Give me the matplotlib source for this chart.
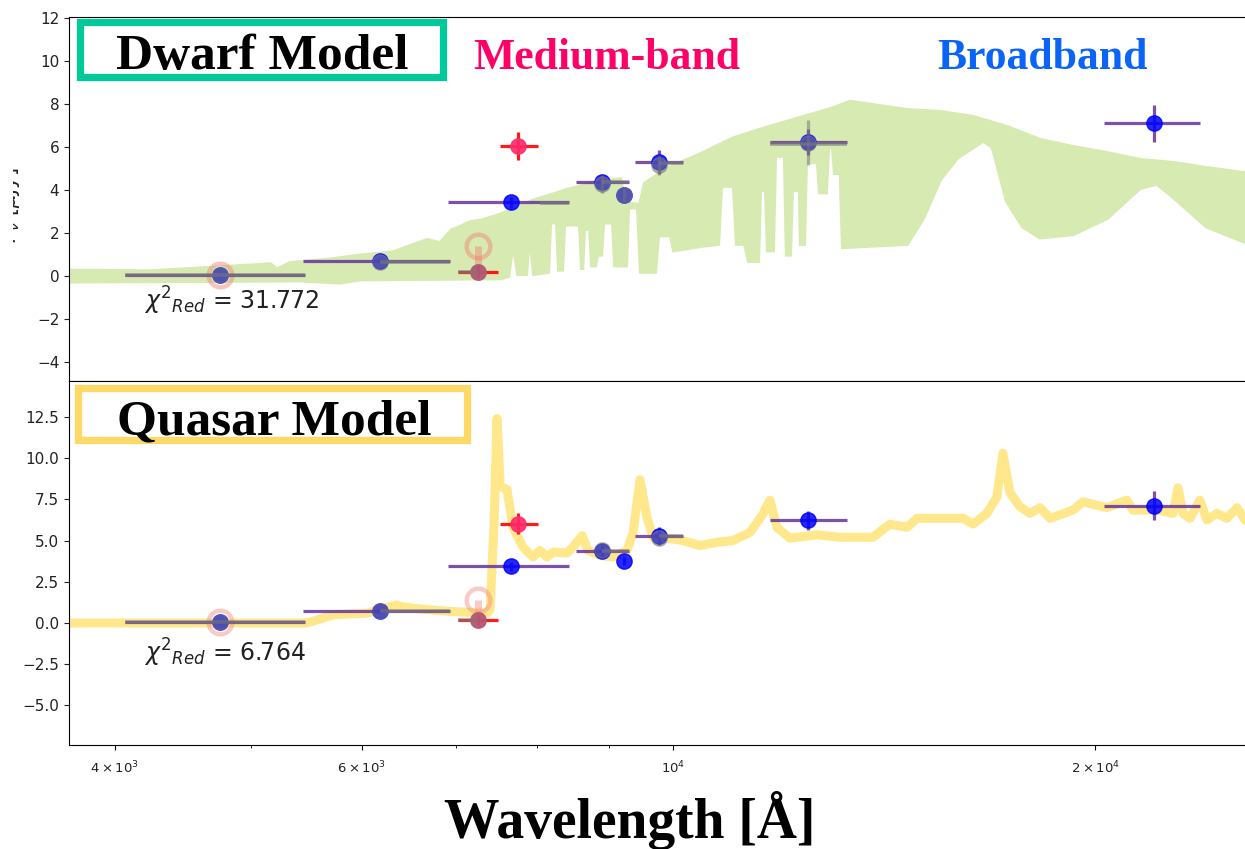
import numpy as np
import matplotlib
matplotlib.use('Agg')
import matplotlib.pyplot as plt
from matplotlib.patches import Rectangle

# photometry (wavelength in Angstrom, flux in uJy)
bb_wave = [4755, 6182, 7667, 8900, 9227, 9773, 12480, 22022]
bb_lo = [4068, 5449, 6914, 8528, 9227, 9395, 11724, 20284]
bb_hi = [5466, 6936, 8430, 9303, 9227, 10165, 13305, 23748]
bb_flux = [0.05, 0.7, 3.43, 4.37, 3.77, 5.3, 6.22, 7.1]
bb_err = [0.1, 0.1, 0.25, 0.35, 0.25, 0.55, 0.6, 0.88]

mb_wave = [7262, 7756]
mb_lo = [7028, 7530]
mb_hi = [7503, 8013]
mb_flux = [0.2, 6.03]
mb_err = [0.3, 0.65]

# flagged bands (open rings)
ring_wave = [4755, 7262]
ring_flux = [0.05, 1.42]
ring_drop = [0.0, 1.2]

# synthetic photometry of each model
dwarf_bar_lo = [4068, 6182, 7028, 8039, 8900, 9773, 11724]
dwarf_bar_hi = [5466, 6936, 7262, 8430, 9303, 10165, 13305]
dwarf_bar_flux = [0.05, 0.65, 0.2, 3.4, 4.37, 5.25, 6.15]
dwarf_pt_wave = [4755, 6182, 7262, 8900, 9227, 9773, 12480]
dwarf_pt_flux = [0.05, 0.65, 0.2, 4.28, 3.77, 5.16, 6.2]
dwarf_pt_err = [0.0, 0.0, 0.0, 0.42, 0.3, 0.45, 1.05]

qso_bar_lo = [4068, 6182, 7028, 8900, 9773]
qso_bar_hi = [5466, 6936, 7262, 9303, 10165]
qso_bar_flux = [0.05, 0.7, 0.2, 4.37, 5.3]
qso_pt_wave = [4755, 6182, 7262, 8900, 9773]
qso_pt_flux = [0.05, 0.7, 0.2, 4.4, 5.15]

# dwarf template: upper and lower envelope of the line forest
dwarf_up_wave = [3711, 4239, 4601, 5036, 5162, 5221, 5334, 5668, 5984, 6317,
                 6679, 6823, 6959, 7005, 7168, 7323, 7530, 7948, 8403, 8872,
                 9169, 9243, 9473, 9551, 9902, 10453, 11034, 11668, 12316,
                 13003, 13370, 13884, 14684, 15502, 16361, 17298, 18265,
                 19284, 20384, 21520, 22718, 24021, 25780]
dwarf_up_flux = [0.25, 0.22, 0.35, 0.5, 0.55, 0.3, 0.6, 0.75, 0.95, 1.1,
                 1.67, 1.53, 2.14, 2.2, 2.5, 2.6, 2.85, 3.5, 4.0, 4.4,
                 4.5, 3.4, 3.3, 4.3, 5.0, 5.65, 6.4, 6.9, 7.35,
                 7.8, 8.1, 7.95, 7.72, 7.63, 7.40, 6.93, 6.33,
                 6.0, 5.72, 5.40, 5.26, 5.02, 4.75]
dwarf_lo_wave = [3711, 5422, 5790, 5984, 7530, 7630, 7667, 7718, 7756, 7858,
                 7884, 7923, 7961, 8146, 8173, 8267, 8294, 8335, 8362, 8586,
                 8614, 8642, 8728, 8757, 8800, 8829, 8887, 8916, 9064, 9094,
                 9258, 9289, 9442, 9488, 9709, 9757, 9967, 10016, 10453, 10767,
                 10820, 11053, 11107, 11254, 11329, 11497, 11535, 11649, 11687,
                 11783, 11822, 12016, 12056, 12115, 12155, 12316, 12336, 12397,
                 12438, 12686, 12728, 12853, 12896, 13003, 13046, 13110, 13153,
                 13218, 14684, 15075, 15502, 15941, 16632, 16901, 17298, 17762,
                 18265, 19284, 20384, 21520, 22129, 22718, 24021, 25780]
dwarf_lo_flux = [-0.25, -0.2, -0.3, -0.15, -0.1, 0.0, 1.0, 1.0, 0.1, 0.1,
                 1.4, 1.4, 0.1, 0.2, 2.5, 2.5, 0.3, 0.3, 2.4, 2.4,
                 0.3, 2.2, 2.2, 0.5, 0.5, 1.0, 1.0, 2.5, 2.5, 0.5,
                 0.5, 3.2, 3.2, 0.2, 0.2, 1.9, 1.9, 1.2, 1.4, 1.5,
                 4.2, 4.2, 1.5, 1.5, 0.7, 0.7, 4.0, 4.0, 1.2,
                 1.2, 5.6, 5.6, 1.0, 1.0, 4.0, 4.0, 1.5, 1.5,
                 5.3, 5.3, 3.9, 3.9, 6.0, 6.0, 4.8, 4.8, 6.0,
                 1.35, 1.5, 2.7, 4.5, 5.5, 6.3, 6.0, 3.5, 2.3,
                 1.8, 1.95, 2.7, 4.1, 4.3, 3.7, 2.3, 1.5]

# quasar template
qso_wave = [3711, 5466, 5511, 5724, 6052, 6357, 6389, 6602, 6936, 7369,
            7406, 7455, 7491, 7515, 7530, 7615, 7691, 7818, 7948, 8039,
            8132, 8212, 8403, 8486, 8614, 8698, 8872, 9064, 9273, 9365,
            9473, 9582, 9677, 9902, 10165, 10453, 10749, 11034, 11348, 11590,
            11724, 11860, 12115, 12665, 13003, 13153, 13884, 14277, 14684,
            14926, 15502, 16099, 16361, 16743, 17017, 17185, 17385, 17675,
            17967, 18265, 18567, 19284, 19597, 20384, 21065, 21273, 22129,
            22718, 22905, 23094, 23361, 23748, 24021, 24418, 24823, 25235,
            25568, 25780]
qso_flux = [0.0, 0.0, 0.05, 0.5, 0.6, 1.1, 1.0, 0.85, 0.7, 0.6,
            0.8, 6.0, 12.4, 10.0, 8.3, 8.1, 5.8, 4.6, 4.0, 4.4,
            4.0, 4.3, 4.25, 4.6, 5.3, 4.4, 4.1, 4.0, 4.4, 5.45,
            8.7, 6.4, 5.2, 5.15, 5.0, 4.7, 4.9, 5.0, 5.5, 6.6,
            7.45, 5.8, 5.15, 5.35, 5.25, 5.2, 5.2, 6.0, 5.8,
            6.35, 6.35, 6.35, 6.0, 6.65, 7.65, 10.3, 7.9, 7.05,
            6.65, 7.0, 6.35, 6.85, 7.35, 7.0, 7.45, 6.85, 6.85,
            6.65, 8.2, 6.65, 6.35, 7.45, 6.25, 6.65, 6.35, 7.0,
            6.25, 6.0]

chi2 = ['31.772', '6.764']
xtick_vals = [4000, 6000, 10000, 20000]
xtick_text = [r'$4\times10^3$', r'$6\times10^3$', r'$10^4$', r'$2\times10^4$']
xminor_vals = [5000, 7000, 8000, 9000]

W, H = 1245, 849
fig = plt.figure(figsize=(W / 100, H / 100), dpi=100)
ax1 = fig.add_axes([69 / W, 1 - 381 / H, 1181 / W, 364 / H])
ax2 = fig.add_axes([69 / W, 1 - 745 / H, 1181 / W, 364 / H], sharex=ax1)

serif = 'Liberation Serif'


def draw_photometry(ax, ring_col):
    xe = [np.subtract(bb_wave, bb_lo), np.subtract(bb_hi, bb_wave)]
    ax.errorbar(bb_wave, bb_flux, xerr=xe, yerr=bb_err, fmt='o', ms=11,
                color='blue', ecolor='rebeccapurple', elinewidth=2.3,
                capsize=0, alpha=0.85, zorder=3)
    xe = [np.subtract(mb_wave, mb_lo), np.subtract(mb_hi, mb_wave)]
    ax.errorbar(mb_wave, mb_flux, xerr=xe, yerr=mb_err, fmt='o', ms=11,
                color='#ff2a6a', ecolor='red', elinewidth=2.3,
                capsize=0, alpha=0.9, zorder=3)
    ax.errorbar(ring_wave, ring_flux, yerr=[ring_drop, np.zeros(len(ring_drop))],
                fmt='o', ms=17, mfc='none', mec=ring_col, mew=3.2,
                ecolor=ring_col, elinewidth=5, capsize=0, alpha=0.45, zorder=2)


# dwarf panel
poly_x = np.concatenate([dwarf_up_wave, dwarf_lo_wave[::-1]])
poly_y = np.concatenate([dwarf_up_flux, dwarf_lo_flux[::-1]])
ax1.fill(poly_x, poly_y, color='#d7eab1', lw=3, ec='#d7eab1', zorder=1)
draw_photometry(ax1, '#f08070')
ax1.hlines(dwarf_bar_flux, dwarf_bar_lo, dwarf_bar_hi, color='#7a7a7a',
           lw=2.6, alpha=0.65, zorder=4)
ax1.errorbar(dwarf_pt_wave, dwarf_pt_flux, yerr=dwarf_pt_err, fmt='o', ms=11,
             color='#7a7a7a', elinewidth=2.3, capsize=0, alpha=0.55, zorder=4)

# quasar panel
ax2.plot(qso_wave, qso_flux, color='#ffe88c', lw=6.5, solid_joinstyle='round',
         solid_capstyle='round', zorder=1)
draw_photometry(ax2, '#f08c84')
ax2.hlines(qso_bar_flux, qso_bar_lo, qso_bar_hi, color='#7a7a7a',
           lw=2.6, alpha=0.6, zorder=4)
ax2.plot(qso_pt_wave, qso_pt_flux, 'o', ms=11, color='#7a7a7a', alpha=0.5,
         zorder=4)

ax1.set_xscale('log')
ax2.set_xticks(xtick_vals, labels=xtick_text)
ax2.set_xticks(xminor_vals, minor=True)
ax2.xaxis.set_minor_formatter(matplotlib.ticker.NullFormatter())
ax1.set_xlim(3711, 25780)
ax1.set_ylim(-4.88, 12.05)
ax2.set_ylim(-7.40, 14.68)
ax1.set_yticks(np.arange(-4, 13, 2))
ax2.set_yticks(np.arange(-5, 13, 2.5))
ax1.tick_params(axis='x', which='both', bottom=False, labelbottom=False)
ax2.tick_params(axis='x', which='major', labelsize=9.5, pad=7,
                labelcolor='#222222')
for ax in (ax1, ax2):
    ax.tick_params(axis='y', labelsize=11, colors='#222222')
    ax.spines['right'].set_visible(False)

ax1.text(4200, -1.15, r'$\chi^2{}_{Red}$ = ' + chi2[0], fontsize=17,
         va='center', color='#222222')
ax2.text(4200, -1.8, r'$\chi^2{}_{Red}$ = ' + chi2[1], fontsize=17,
         va='center', color='#222222')

# model name boxes
ax1.add_patch(Rectangle((0.0097, 0.8338), 0.3074, 0.1511, transform=ax1.transAxes,
                        fill=True, fc='white', ec='#00c99a', lw=5.2, zorder=6,
                        clip_on=False))
ax1.text(0.1634, 0.856, 'Dwarf Model', transform=ax1.transAxes, ha='center',
         va='baseline', fontsize=37, fontweight='bold', family=serif, zorder=7)
ax2.add_patch(Rectangle((0.008, 0.839), 0.3286, 0.143, transform=ax2.transAxes,
                        fill=True, fc='white', ec='#ffd966', lw=5.2, zorder=6,
                        clip_on=False))
ax2.text(0.1735, 0.853, 'Quasar Model', transform=ax2.transAxes, ha='center',
         va='baseline', fontsize=37, fontweight='bold', family=serif, zorder=7)

fig.text(607 / W, 1 - 69 / H, 'Medium-band', ha='center', va='baseline',
         fontsize=31.5, fontweight='bold', family=serif, color='#ff0066')
fig.text(1043 / W, 1 - 69 / H, 'Broadband', ha='center', va='baseline',
         fontsize=31.5, fontweight='bold', family=serif, color='#0a64f5')
fig.text(630 / W, 1 - 838 / H, 'Wavelength [Å]', ha='center', va='baseline',
         fontsize=40, fontweight='bold', family=serif)

# flux label, mostly hidden behind the left margin
fig.text(22 / W, 1 - 205 / H, r'$F_\nu$ [$\mu$Jy]', rotation=90, ha='right',
         va='center', fontsize=15, color='#222222')
fig.patches.append(Rectangle((0, 0), 13 / W, 1, transform=fig.transFigure,
                             fc='white', ec='none', zorder=10))

fig.savefig('out.png', dpi=100)
